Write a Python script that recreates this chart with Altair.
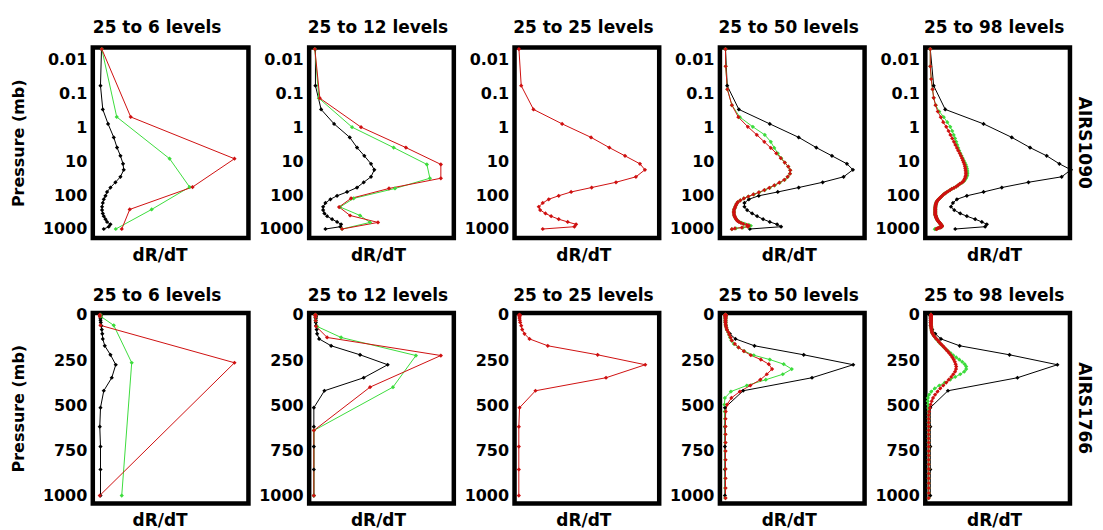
import altair as alt
import pandas as pd

FONT = "DejaVu Sans"
BLACK, GREEN, RED = "#000000", "#3ddc3d", "#cf1010"

PANEL_TITLES = ["25 to 6 levels", "25 to 12 levels", "25 to 25 levels", "25 to 50 levels", "25 to 98 levels"]
ROW_LABELS = ["AIRS1090", "AIRS1766"]
TOP_TICKS = [0.01, 0.1, 1, 10, 100, 1000]
BOTTOM_TICKS = [0, 250, 500, 750, 1000]

# pressure levels (mb)
LEV6 = [0.005, 0.5, 8.5, 58, 265, 1000]
LEV12 = [0.005, 0.14, 1.0, 4.0, 12.5, 32, 64, 125, 225, 400, 640, 1000]
LEV25 = [0.005, 0.06, 0.3, 0.8, 2, 4, 7, 12, 18, 29, 42, 60, 81, 105, 133, 171, 221, 276,
         348, 420, 514, 619, 729, 856, 1000]
LEV50 = [0.005, 0.0161, 0.0769, 0.2244, 0.5064, 0.9753, 1.6872, 2.7009, 4.077, 5.8776,
         8.1655, 11.0038, 14.4559, 18.5847, 23.4526, 29.121, 35.6505, 43.1001, 51.5278, 60.9895,
         71.5398, 83.231, 96.1138, 110.237, 125.646, 142.385, 160.496, 180.018, 200.989, 223.441,
         247.408, 272.919, 300.0, 328.675, 358.966, 390.893, 424.47, 459.712, 496.63, 535.232,
         575.525, 617.511, 661.192, 706.565, 753.628, 802.371, 852.788, 904.866, 958.591, 1013.95]
LEV98 = [0.005, 0.0161, 0.0384, 0.0769, 0.137, 0.2244, 0.3454, 0.5064, 0.714, 0.9753,
         1.2972, 1.6872, 2.1526, 2.7009, 3.3398, 4.077, 4.9204, 5.8776, 6.9567, 8.1655,
         9.5119, 11.0038, 12.6492, 14.4559, 16.4318, 18.5847, 20.9224, 23.4526, 26.1829, 29.121,
         32.2744, 35.6505, 39.2566, 43.1001, 47.1882, 51.5278, 56.126, 60.9895, 66.1253, 71.5398,
         77.2396, 83.231, 89.5204, 96.1138, 103.017, 110.237, 117.777, 125.646, 133.846, 142.385,
         151.266, 160.496, 170.078, 180.018, 190.32, 200.989, 212.028, 223.441, 235.234, 247.408,
         259.969, 272.919, 286.262, 300.0, 314.137, 328.675, 343.618, 358.966, 374.724, 390.893,
         407.474, 424.47, 441.882, 459.712, 477.961, 496.63, 515.72, 535.232, 555.167, 575.525,
         596.306, 617.511, 639.14, 661.192, 683.667, 706.565, 729.886, 753.628, 777.79, 802.371,
         827.371, 852.788, 878.62, 904.866, 931.524, 958.591, 986.067, 1013.95]

# ---------------- AIRS1090 (top row), dR/dT in arbitrary panel units ----------------
A1_P1_BLACK = [8.7, 7.7, 10, 15.3, 21, 24.3, 27.7, 30.3, 31, 27.7, 22.7, 17.7, 14.3, 12.7, 11,
               10, 9.3, 9.3, 10, 11, 12.7, 14.3, 17.7, 16, 11]
A1_P1_GREEN = [9, 24, 77, 97, 59, 23]
A1_P1_RED = [9, 38, 142, 100, 37, 29]

A1_P2_BLACK = [6.3, 6.3, 12, 25, 40.7, 48, 55.3, 62, 65.3, 62, 54.7, 48, 38, 28, 21.3, 16.3,
               14, 14, 15.3, 18, 23, 28, 32, 31.3, 16.3]
A1_P2_GREEN = [5.7, 9.7, 43, 84.7, 118, 121, 86, 44.7, 31, 51, 61, 33]
A1_P2_RED = [5.7, 10.7, 52, 97, 132, 132, 80, 42, 30, 41, 69, 33]

A1_P3_RED = [4.4, 6.7, 19, 47.7, 76.7, 95, 110.7, 125.7, 130.7, 121.7, 101.7, 77.3, 56.7, 44.3,
             34.3, 28.3, 24.3, 25.7, 31, 36.7, 44.3, 53.3, 61.7, 60, 28.3]

A1_P4_BLACK = [5.6, 7.3, 19, 50, 79, 96.6, 112.3, 127.3, 133.3, 124, 103, 79, 58, 39, 29, 24.6,
               24.6, 27.3, 32.3, 37.3, 43.3, 50, 57.3, 61.3, 30]
A1_P4_GREEN = [5.6, 5.8, 7.5, 12, 20, 33, 45, 51, 54.5, 58,
               61.5, 65, 68.5, 70.5, 70.2, 68, 65, 60, 55, 50,
               45, 39.5, 34, 28.5, 24, 20.5, 18, 16.8, 16, 15.3,
               14.7, 14.2, 14, 14, 14.1, 14.3, 14.8, 15.3, 16, 16.7,
               18, 19.5, 22, 25, 29, 31, 29, 23, 16, 12]
A1_P4_RED = [5.6, 5.8, 7.5, 12, 18.5, 28, 37, 44.5, 51, 56.5,
             61, 65, 68.5, 70.5, 70.2, 67.8, 64.5, 59.5, 54.5, 49.5,
             44.5, 39, 33.5, 28.5, 24, 20.5, 18, 16.8, 16, 15.3,
             14.7, 14.2, 14, 14, 14.1, 14.3, 14.8, 15.3, 16, 16.7,
             17.5, 19, 21, 23.5, 27, 29, 28, 22, 15, 12]

A1_P5_BLACK = [5, 8.4, 20, 58.4, 86.7, 105, 121.7, 134.4, 146, 136.7, 103.4, 76.7, 58.4, 41.7,
               31.7, 27.7, 25.7, 29, 35, 41.7, 50, 56.7, 61.7, 60, 30]
A1_P5_GREEN = [5, 5, 6, 7.3, 8.4, 10.5, 14, 18.5, 22, 25,
               27, 28.5, 29.8, 31, 32, 33, 34, 35.2, 36.3, 37.5,
               38.5, 39.5, 40.5, 41.2, 41.7, 42, 42.2, 42.2, 42, 41.5,
               40.7, 39.8, 38.6, 36.8, 34.7, 32.9, 31, 28.8, 26.5, 24.8,
               23, 21.3, 19.8, 18.3, 17.2, 16.2, 15.2, 14.2, 13.3, 12.5,
               11.7, 11.3, 11, 10.7, 10.5, 10.3, 10.2, 10.1, 10, 10,
               10, 10, 10, 10, 10, 10, 10, 10, 10, 10.2,
               10.4, 10.6, 10.8, 11, 11.2, 11.5, 11.7, 12, 12.4, 12.8,
               13.2, 13.6, 14, 14.5, 14.9, 15.2, 15.6, 16, 16.3, 16.6,
               16.7, 16.5, 15.8, 14.8, 13.5, 12, 10.5, 9.5]
A1_P5_RED = [5, 5, 6, 7.3, 8.4, 10.3, 12.5, 15.5, 18, 21,
             23.3, 25.2, 27, 28.7, 30.2, 31.7, 33, 34.5, 35.7, 36.8,
             37.7, 38.5, 39.3, 39.8, 40.1, 40.4, 40.6, 40.7, 40.6, 40.2,
             39.6, 39, 38.2, 36.5, 34.5, 32.8, 31, 28.8, 26.5, 24.8,
             23, 21.3, 19.8, 18.3, 17.2, 16.2, 15.2, 14.2, 13.3, 12.5,
             11.7, 11.3, 11, 10.7, 10.5, 10.3, 10.2, 10.1, 10, 10,
             10, 10, 10, 10, 10, 10, 10, 10, 10, 10.2,
             10.4, 10.6, 10.8, 11, 11.2, 11.5, 11.7, 12, 12.4, 12.8,
             13.2, 13.6, 14, 14.5, 14.9, 15.2, 15.6, 16, 16.3, 16.6,
             16.7, 16.5, 15.8, 14.8, 13.5, 12.3, 11.5, 11]

# ---------------- AIRS1766 (bottom row) ----------------
A2_P1_BLACK = [7.7, 7.7, 7.7, 7.7, 7.7, 7.7, 7.7, 7.7, 7.7, 7.7, 8, 8.5, 9, 9.5, 10, 12, 17.7,
               23, 19, 11, 7.7, 7, 7.7, 7.7, 7.7]
A2_P1_GREEN = [7.7, 7.7, 8, 21, 39, 29]
A2_P1_RED = [7, 7, 7, 7.7, 142, 7]

A2_P2_BLACK = [6.7, 6.7, 6.7, 6.7, 6.7, 6.7, 6.7, 6.7, 6.7, 6.7, 6.7, 7, 7.5, 8, 10, 22, 51,
               78.7, 54.7, 15.3, 4.7, 4.7, 4.7, 4.7, 4.7]
A2_P2_GREEN = [6.3, 6.3, 6.3, 6.3, 6.3, 6.5, 8, 32, 107, 84, 4.7, 4.7]
A2_P2_RED = [6.3, 6.3, 6.3, 6.3, 6.3, 6.5, 7, 18, 132, 61, 4.7, 4.7]

A2_P3_RED = [5, 5, 5, 5, 5, 5, 5, 5, 5, 5.3, 5.7, 6.7, 7.7, 10, 15, 33.3, 83.3, 131, 91.7, 21,
             5, 4.3, 4.3, 4.3, 4.3]

A2_P4_BLACK = [5.6, 5.6, 5.6, 5.6, 5.6, 5.6, 5.6, 5.6, 5.6, 5.6, 5.6, 6, 7, 10, 15.6, 34.6, 84,
               133.6, 92.3, 23.3, 5, 5, 5, 5, 5]
A2_P4_GREEN = [5.6, 5.6, 5.6, 5.6, 5.6, 5.6, 5.6, 5.6, 5.6, 5.6,
               5.6, 5.6, 5.6, 5.6, 5.6, 5.6, 5.6, 5.6, 5.8, 6,
               6.5, 7.2, 8.3, 9.2, 10.2, 11.5, 14, 18.5, 24.5, 34,
               50, 64, 72, 63, 46, 27, 11, 5, 4.5, 4.8,
               5.2, 5.4, 5.4, 5.4, 5.4, 5.4, 5.4, 5.4, 5.4, 5.4]
A2_P4_RED = [5.6, 5.6, 5.6, 5.6, 5.6, 5.6, 5.6, 5.6, 5.6, 5.6,
             5.6, 5.6, 5.6, 5.6, 5.6, 5.6, 5.6, 5.6, 5.8, 6,
             6.5, 7.2, 8.5, 9.5, 10.8, 12, 15, 18.7, 24, 31,
             41, 49, 52.3, 47, 40.5, 30.5, 20, 11.5, 7.2, 5.8,
             5.6, 5.6, 5.6, 5.6, 5.6, 5.6, 5.6, 5.6, 5.6, 5.6]

A2_P5_BLACK = [5.3, 5.3, 5.3, 5.3, 5.3, 5.3, 5.3, 5.3, 5.3, 5.3, 5.3, 5.3, 7, 10, 15.7, 34.4,
               84.4, 132.4, 92.4, 22.7, 5, 5, 5, 5, 5]
A2_P5_GREEN = [5.7, 5.7, 5.7, 5.7, 5.7, 5.7, 5.7, 5.7, 5.7, 5.7,
               5.7, 5.7, 5.7, 5.7, 5.7, 5.7, 5.7, 5.7, 5.7, 5.7,
               5.7, 5.7, 5.7, 5.7, 5.7, 5.7, 5.7, 5.7, 5.7, 5.7,
               5.7, 5.7, 5.7, 5.7, 5.7, 5.7, 5.7, 5.8, 5.9, 6.0,
               6.1, 6.3, 6.5, 6.7, 7.2, 8.0, 9.0, 10.0, 11.0, 12.5,
               13.7, 15.3, 17.0, 18.8, 20.8, 23.0, 25.5, 28.0, 31.0, 34.0,
               37.0, 39.5, 41.0, 41.0, 39.0, 35.0, 30.0, 25.0, 19.5, 14.0,
               9.5, 6.0, 3.8, 2.6, 2.5, 2.8, 3.1, 3.4, 3.4, 3.4,
               3.4, 3.4, 3.4, 3.4, 3.4, 3.4, 3.4, 3.4, 3.4, 3.4,
               3.4, 3.4, 3.4, 3.4, 3.4, 3.4, 3.4, 3.4]
A2_P5_RED = [5.7, 5.7, 5.7, 5.7, 5.7, 5.7, 5.7, 5.7, 5.7, 5.7,
             5.7, 5.7, 5.7, 5.7, 5.7, 5.7, 5.7, 5.7, 5.7, 5.7,
             5.7, 5.7, 5.7, 5.7, 5.7, 5.7, 5.7, 5.7, 5.7, 5.7,
             5.7, 5.7, 5.7, 5.7, 5.7, 5.7, 5.7, 5.8, 5.9, 6.0,
             6.1, 6.3, 6.5, 6.7, 7.2, 8.0, 9.0, 10.0, 11.3, 12.8,
             14.0, 15.6, 17.2, 19.0, 20.7, 22.4, 24.0, 25.7, 27.2, 28.5,
             29.6, 30.4, 31.0, 30.8, 29.8, 28.0, 26.0, 23.5, 21.0, 18.0,
             15.0, 12.3, 9.8, 7.8, 6.4, 5.3, 4.5, 3.8, 3.4, 3.4,
             3.4, 3.4, 3.4, 3.4, 3.4, 3.4, 3.4, 3.4, 3.4, 3.4,
             3.4, 3.4, 3.4, 3.4, 3.4, 3.4, 3.4, 3.4]

ROWS = [
    [
        [("black", LEV25, A1_P1_BLACK), ("green", LEV6, A1_P1_GREEN), ("red", LEV6, A1_P1_RED)],
        [("black", LEV25, A1_P2_BLACK), ("green", LEV12, A1_P2_GREEN), ("red", LEV12, A1_P2_RED)],
        [("red", LEV25, A1_P3_RED)],
        [("black", LEV25, A1_P4_BLACK), ("green", LEV50, A1_P4_GREEN), ("red", LEV50, A1_P4_RED)],
        [("black", LEV25, A1_P5_BLACK), ("green", LEV98, A1_P5_GREEN), ("red", LEV98, A1_P5_RED)],
    ],
    [
        [("black", LEV25, A2_P1_BLACK), ("green", LEV6, A2_P1_GREEN), ("red", LEV6, A2_P1_RED)],
        [("black", LEV25, A2_P2_BLACK), ("green", LEV12, A2_P2_GREEN), ("red", LEV12, A2_P2_RED)],
        [("red", LEV25, A2_P3_RED)],
        [("black", LEV25, A2_P4_BLACK), ("green", LEV50, A2_P4_GREEN), ("red", LEV50, A2_P4_RED)],
        [("black", LEV25, A2_P5_BLACK), ("green", LEV98, A2_P5_GREEN), ("red", LEV98, A2_P5_RED)],
    ],
]

WIDTHS = [156, 145, 145, 145, 145]
H = 191
TITLE_Y = [-14.5, -11.5]

color_scale = alt.Scale(domain=["black", "green", "red"], range=[BLACK, GREEN, RED])


def make_panel(r, c):
    W = WIDTHS[c]
    recs = []
    for name, lev, vals in ROWS[r][c]:
        for i, (p, v) in enumerate(zip(lev, vals)):
            recs.append({"s": name, "i": i, "p": p, "x": v})
    df = pd.DataFrame(recs)

    if r == 0:
        yscale = alt.Scale(type="log", domain=[0.0045, 1850], reverse=True, nice=False)
        yvals, yfmt = TOP_TICKS, "~g"
    else:
        yscale = alt.Scale(domain=[-11, 1044], reverse=True, nice=False, zero=False)
        yvals, yfmt = BOTTOM_TICKS, "d"

    yaxis_kw = dict(values=yvals, format=yfmt, labelFont=FONT, labelFontSize=16,
                    labelFontWeight="bold", labelColor="black", labelPadding=6,
                    ticks=False, tickSize=0, domain=False, grid=False)
    if c == 0:
        yaxis = alt.Axis(title="Pressure (mb)", titleFont=FONT, titleFontSize=16,
                         titleFontWeight="bold", titleColor="black", titleAngle=270,
                         titleX=-69, titleY=H / 2, titleAlign="center",
                         titleBaseline="alphabetic", **yaxis_kw)
    else:
        yaxis = alt.Axis(title=None, **yaxis_kw)

    xaxis = alt.Axis(title="dR/dT", labels=False, ticks=False, domain=False, grid=False,
                     titleFont=FONT, titleFontSize=17, titleFontWeight="bold",
                     titleColor="black", titleX=67 if c == 0 else 69, titleY=22.5,
                     titleAlign="center", titleBaseline="alphabetic")

    x = alt.X("x:Q", scale=alt.Scale(domain=[0, W], nice=False, zero=False), axis=xaxis)
    y = alt.Y("p:Q", scale=yscale, axis=yaxis)
    col = alt.Color("s:N", scale=color_scale, legend=None)

    base = alt.Chart(df)
    lines = base.mark_line(strokeWidth=1).encode(x=x, y=y, color=col, order="i:Q")
    pts = base.mark_point(shape="diamond", filled=True, size=18, opacity=1).encode(
        x=x, y=y, color=col)

    ttl = alt.Chart(pd.DataFrame({"t": [PANEL_TITLES[c]]})).mark_text(
        font=FONT, fontSize=17, fontWeight="bold", align="center",
        baseline="alphabetic", color="black").encode(
        text="t:N", x=alt.value(64.5 if c == 0 else 69), y=alt.value(TITLE_Y[r]))
    layers = [lines, pts, ttl]
    if c == 4:
        lab = alt.Chart(pd.DataFrame({"t": [ROW_LABELS[r]]})).mark_text(
            angle=90, font=FONT, fontSize=17, fontWeight="bold", align="center",
            baseline="middle", color="black").encode(
            text="t:N", x=alt.value(W + 14), y=alt.value(H / 2))
        layers.append(lab)

    return alt.layer(*layers).properties(width=W, height=H)


panels = [make_panel(r, c) for r in range(2) for c in range(5)]

chart = alt.concat(*panels, columns=5, spacing={"row": 75, "column": 60.85},
                   bounds="flush", align="each").configure(
    padding={"left": 0, "top": 8, "right": -0.5, "bottom": 0}, background="white"
).configure_view(stroke="black", strokeWidth=4.5)

chart.save("out.html", embed_options={"renderer": "svg", "actions": False})
